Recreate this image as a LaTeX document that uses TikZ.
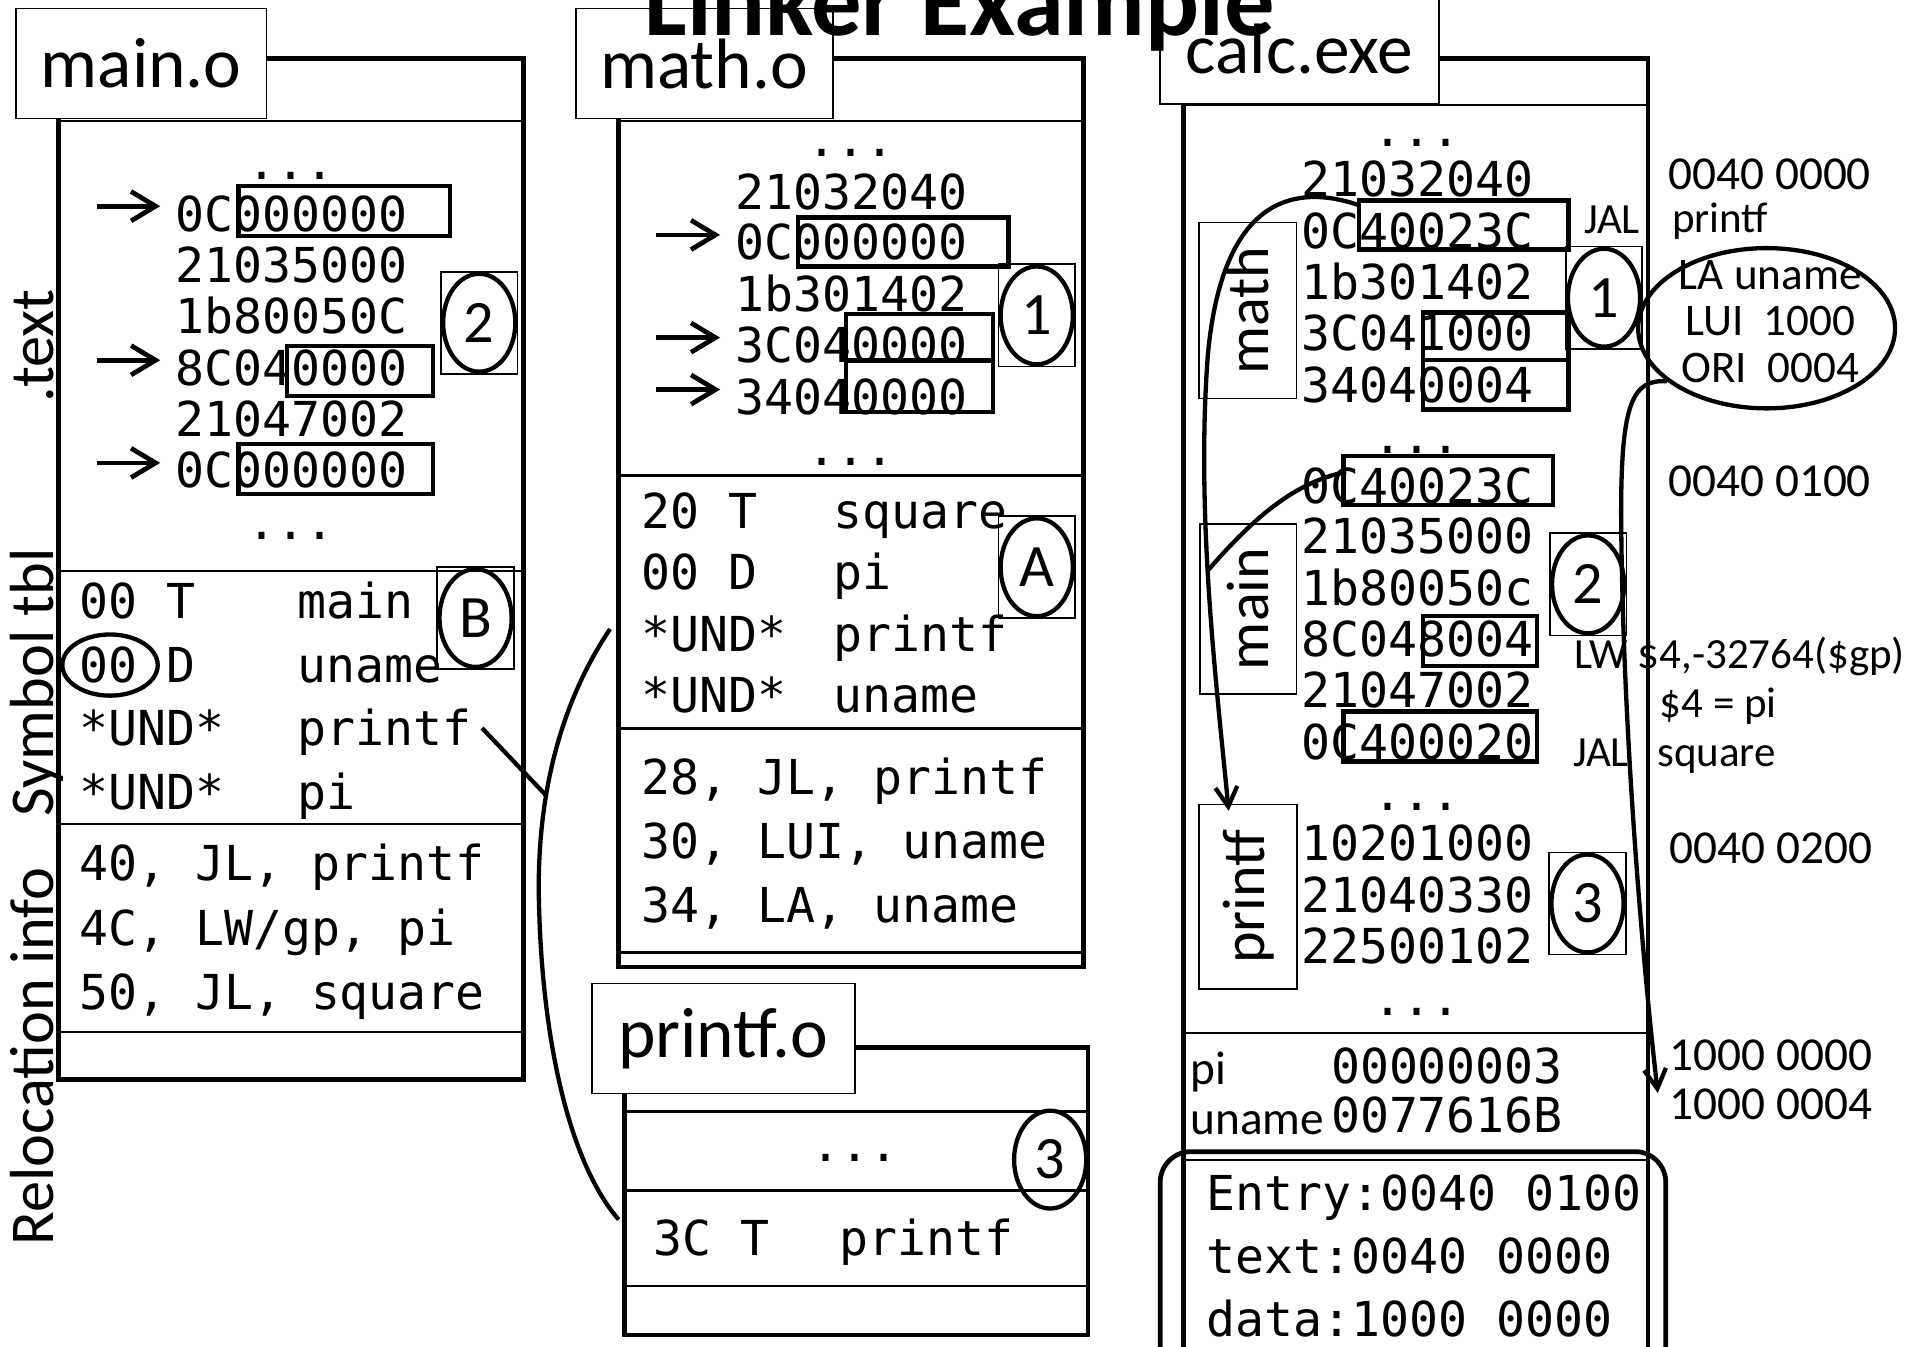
\documentclass[tikz,border=0pt]{standalone}
\usepackage{fontspec}
\setmainfont{Carlito}
\setmonofont{DejaVu Sans Mono}
\usetikzlibrary{calc}
\usetikzlibrary{arrows.meta}
\usetikzlibrary{shapes.geometric}

\newcommand{\codefont}{\ttfamily\fontsize{11.2}{13}\selectfont}
\newcommand{\symrow}[3]{\makebox[#1][l]{#2}#3}

\begin{document}
\begin{tikzpicture}[x=0.01cm,y=-0.01cm,inner sep=0pt,
  code/.style={font=\codefont,anchor=base west},
  dots/.style={font=\codefont,anchor=base},
  frame/.style={line width=1.1pt},
  sep/.style={line width=0.6pt},
  hit/.style={line width=1pt},
  tag/.style={draw,fill=white,minimum height=0.9cm,font=\fontsize{16.6}{20}\selectfont},
  side/.style={rotate=90,anchor=base,font=\fontsize{14.5}{17}\selectfont},
  part/.style={draw,font=\fontsize{14}{17}\selectfont},
  bubble/.style={ellipse,draw,line width=1pt,minimum width=0.59cm,minimum height=0.8cm,font=\fontsize{14}{17}\selectfont},
  addr/.style={anchor=base west,font=\fontsize{11}{13}\selectfont},
  note/.style={anchor=base west,font=\fontsize{10}{12}\selectfont},
  ptr/.style={line width=1.1pt,-{Straight Barb[length=2mm,width=2.4mm]}},
  jump/.style={line width=1pt,-{Straight Barb[length=1.6mm,width=1.8mm]}},
  link/.style={line width=1pt}]
\useasboundingbox (0,0) rectangle (1568,1101);
\clip (0,0) rectangle (1568,1101);

% main.o
\draw[frame] (48,48) rectangle (428,883);
\draw[sep] (48,99) -- (428,99);
\draw[sep] (48,467) -- (428,467);
\draw[sep] (48,674) -- (428,674);
\draw[sep] (48,844) -- (428,844);
\node[tag,minimum width=2.05cm] (mainlbl) at (115.5,52) {main.o};
\node[side] (ltext) at (44,283) {.text};
\node[side] (lsym) at (44,558) {Symbol tbl};
\node[side] (lrel) at (44,864) {Relocation info};

\node[dots] (mt0) at (238,147) {...};
\node[code] (mt1) at (143,189) {0C000000};
\node[code] (mt2) at (143,231) {21035000};
\node[code] (mt3) at (143,273) {1b80050C};
\node[code] (mt4) at (143,315) {8C040000};
\node[code] (mt5) at (143,357) {21047002};
\node[code] (mt6) at (143,399) {0C000000};
\node[dots] (mt7) at (238,441) {...};
\draw[ptr] ([xshift=-0.64cm,yshift=0.06cm]mt1.west) -- ([xshift=-0.12cm,yshift=0.06cm]mt1.west);
\draw[ptr] ([xshift=-0.64cm,yshift=0.06cm]mt4.west) -- ([xshift=-0.12cm,yshift=0.06cm]mt4.west);
\draw[ptr] ([xshift=-0.64cm,yshift=0.06cm]mt6.west) -- ([xshift=-0.12cm,yshift=0.06cm]mt6.west);
\draw[hit] (195,152) rectangle (368,193);
\draw[hit] (235,283) rectangle (354,324);
\draw[hit] (195,363) rectangle (354,404);
\node[bubble] (mb2) at (392,264) {2};
\draw[thin] (mb2.west |- mb2.north) rectangle (mb2.east |- mb2.south);

\node[code] (ms1) at (64,506) {\symrow{1.785cm}{00 T}{main}};
\node[code] (ms2) at (64,558) {\symrow{1.785cm}{00 D}{uname}};
\node[code] (ms3) at (64,610) {\symrow{1.785cm}{*UND*}{printf}};
\node[code] (ms4) at (64,662) {\symrow{1.785cm}{*UND*}{pi}};
\node[bubble] (mbB) at (389,505.5) {B};
\draw[thin] (mbB.west |- mbB.north) rectangle (mbB.east |- mbB.south);
\node[ellipse,draw,line width=1pt,minimum width=0.78cm,minimum height=0.5cm] (m00) at (90,544) {};

\node[code] (mr1) at (64,720) {40, JL, printf};
\node[code] (mr2) at (64,773) {4C, LW/gp, pi};
\node[code] (mr3) at (64,826) {50, JL, square};

% math.o
\draw[frame] (506,48) rectangle (886,791);
\draw[sep] (506,99) -- (886,99);
\draw[sep] (506,389) -- (886,389);
\draw[sep] (506,596) -- (886,596);
\draw[sep] (506,779) -- (886,779);
\node[tag,minimum width=2.10cm] (mathlbl) at (576,52) {math.o};

\node[dots] (nt0) at (696,128) {...};
\node[code] (nt1) at (601,171) {21032040};
\node[code] (nt2) at (601,212.5) {0C000000};
\node[code] (nt3) at (601,254.5) {1b301402};
\node[code] (nt4) at (601,296.5) {3C040000};
\node[code] (nt5) at (601,339) {34040000};
\node[dots] (nt6) at (696,381) {...};
\draw[ptr] ([xshift=-0.64cm,yshift=0.06cm]nt2.west) -- ([xshift=-0.12cm,yshift=0.06cm]nt2.west);
\draw[ptr] ([xshift=-0.64cm,yshift=0.06cm]nt4.west) -- ([xshift=-0.12cm,yshift=0.06cm]nt4.west);
\draw[ptr] ([xshift=-0.64cm,yshift=0.06cm]nt5.west) -- ([xshift=-0.12cm,yshift=0.06cm]nt5.west);
\draw[hit] (653,178) rectangle (825,218);
\draw[hit] (692,257) rectangle (812,295);
\draw[hit] (692,295) rectangle (812,337);
\node[bubble] (nb1) at (848,258) {1};
\draw[thin] (nb1.west |- nb1.north) rectangle (nb1.east |- nb1.south);

\node[code] (ns1) at (524,432) {\symrow{1.57cm}{20 T}{square}};
\node[code] (ns2) at (524,482) {\symrow{1.57cm}{00 D}{pi}};
\node[code] (ns3) at (524,533) {\symrow{1.57cm}{*UND*}{printf}};
\node[code] (ns4) at (524,583) {\symrow{1.57cm}{*UND*}{uname}};
\node[bubble] (nbA) at (848,464) {A};
\draw[thin] (nbA.west |- nbA.north) rectangle (nbA.east |- nbA.south);

\node[code] (nr1) at (524,650) {28, JL, printf};
\node[code] (nr2) at (524,702.5) {30, LUI, uname};
\node[code] (nr3) at (524,754.5) {34, LA, uname};

% printf.o
\draw[frame] (510.6,857) rectangle (890,1092);
\draw[sep] (510.6,909) -- (890,909);
\draw[sep] (510.6,974) -- (890,974);
\draw[sep] (510.6,1052) -- (890,1052);
\node[tag,minimum width=2.15cm] (printflbl) at (591.5,849.5) {printf.o};
\node[dots] (pt0) at (699,950) {...};
\node[bubble] (pb3) at (859,948.5) {3};
\node[code] (ps1) at (534,1027) {\symrow{1.52cm}{3C T}{printf}};

\draw[link] ([xshift=-0.25cm,yshift=0.076cm]ns3.west) .. controls (455,580) and (438,660) .. coordinate[pos=0.62] (tie) (441,744)
  .. controls (444,850) and (465,950) .. ([xshift=-0.28cm,yshift=0.186cm]ps1.west);
\draw[link] ([xshift=0.08cm,yshift=0.036cm]ms3.east) -- (tie);

% calc.exe
\draw[frame] (968,48) rectangle (1348,1130);
\draw[sep] (968,86) -- (1348,86);
\draw[sep] (968,845) -- (1348,845);
\draw[sep] (968,949) -- (1348,949);
\node[tag,minimum width=2.28cm] (calclbl) at (1063,40) {calc.exe};
\draw[frame,rounded corners=0.25cm] (949,942) rectangle (1362.5,1140);

\node[part,minimum width=0.795cm,minimum height=1.44cm] (cmath) at (1020.75,254) {\rotatebox{90}{math}};
\node[part,minimum width=0.79cm,minimum height=1.39cm] (cmain) at (1021,498) {\rotatebox{90}{main}};
\node[part,minimum width=0.80cm,minimum height=1.51cm] (cprintf) at (1021,733.5) {\rotatebox{90}{printf}};

\node[dots] (ct0) at (1159,120) {...};
\node[code] (ct1) at (1064,161) {21032040};
\node[code] (ct2) at (1064,203) {0C40023C};
\node[code] (ct3) at (1064,245) {1b301402};
\node[code] (ct4) at (1064,287) {3C041000};
\node[code] (ct5) at (1064,329) {34040004};
\node[dots] (ct6) at (1159,371) {...};
\node[code] (ct7) at (1064,412) {0C40023C};
\node[code] (ct8) at (1064,453) {21035000};
\node[code] (ct9) at (1064,495) {1b80050c};
\node[code] (ct10) at (1064,537) {8C048004};
\node[code] (ct11) at (1064,579) {21047002};
\node[code] (ct12) at (1064,621) {0C400020};
\node[dots] (ct13) at (1159,663) {...};
\node[code] (ct14) at (1064,704) {10201000};
\node[code] (ct15) at (1064,746) {21040330};
\node[code] (ct16) at (1064,788) {22500102};
\node[dots] (ct17) at (1159,831) {...};

\draw[hit] (1111.6,164) rectangle (1283,204);
\draw[hit] (1164,255.5) rectangle (1283,294.5);
\draw[hit] (1164,294.5) rectangle (1283,335);
\draw[hit] (1099,373) rectangle (1270.5,413);
\draw[hit] (1164,504) rectangle (1257,545);
\draw[hit] (1099,582) rectangle (1257,623);
\coordinate (jalsrc) at (1112,168);
\coordinate (jaldst) at (1101,386);

\node[bubble] (cb1) at (1312,243.5) {1};
\draw[thin] (cb1.west |- cb1.north) rectangle (cb1.east |- cb1.south);
\node[bubble] (cb2) at (1299,478) {2};
\draw[thin] (cb2.west |- cb2.north) rectangle (cb2.east |- cb2.south);
\node[bubble] (cb3) at (1298.5,739) {3};
\draw[thin] (cb3.west |- cb3.north) rectangle (cb3.east |- cb3.south);

\node[addr] (dpi) at (973,887) {pi};
\node[code] (dpival) at (1088,886) {00000003};
\node[addr] (duname) at (973,928) {uname};
\node[code] (dunameval) at (1088,926) {0077616B};

\node[code] (hentry) at (986,990) {Entry:0040 0100};
\node[code] (htext) at (986,1041.5) {text:0040 0000};
\node[code] (hdata) at (986,1093) {data:1000 0000};

% notes on the right
\node[addr] (a1) at (1364,155) {0040 0000};
\node[note] (n1) at (1295,191) {JAL};
\node[note] (n2) at (1367,190) {printf};
\node[ellipse,draw,line width=1pt,minimum width=2.1cm,minimum height=1.31cm] (lanote) at (1445,268.5) {};
\node[align=center,font=\fontsize{10.5}{10.8}\selectfont] (latext) at (1448,263) {LA uname\\LUI\ \ 1000\\ORI\ \ 0004};
\node[addr] (a2) at (1364,406) {0040 0100};
\node[note] (n3) at (1287,546.6) {LW \$4,-32764(\$gp)};
\node[note] (n4) at (1357,587) {\$4 = pi};
\node[note] (n5) at (1286,627) {JAL};
\node[note] (n6) at (1355,627) {square};
\node[addr] (a3) at (1365,706) {0040 0200};
\node[addr] (a4) at (1365,876) {1000 0000};
\node[addr] (a5) at (1365,916) {1000 0004};
\coordinate (pidat) at (1356,894);

\draw[jump] (jalsrc) .. controls (1060,150) and (1000,160) .. (988,290)
  .. controls (978,420) and (995,560) .. ([xshift=-0.16cm,yshift=-0.06cm]cprintf.north);
\draw[link] ([xshift=0.07cm,yshift=-0.39cm]cmain.north west) .. controls (1020,430) and (1055,395) .. (jaldst);
\draw[jump] (lanote.208) .. controls (1335,310) and (1326,330) .. (1326,420)
  .. controls (1327,600) and (1345,800) .. (pidat);

\node[font=\fontsize{23.4}{28}\selectfont\bfseries,anchor=base] (title) at (785,29) {Linker Example};
\end{tikzpicture}
\end{document}
